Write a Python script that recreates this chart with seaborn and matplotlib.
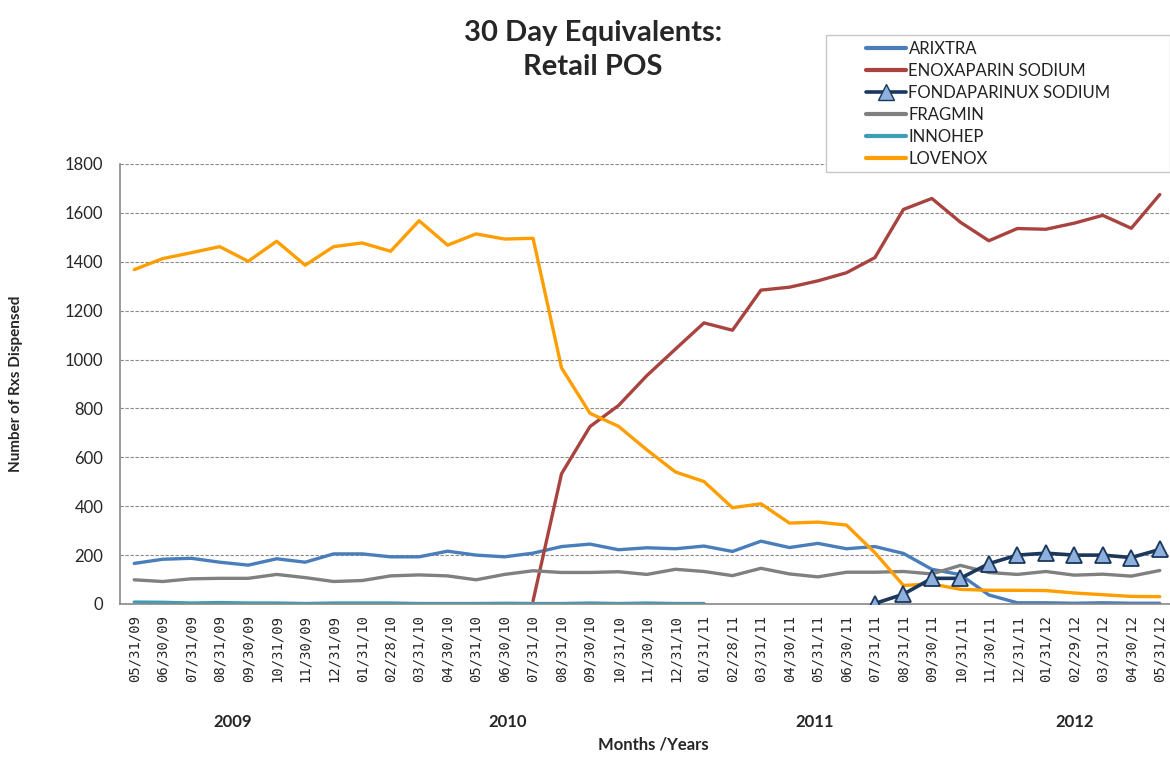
import numpy as np
import pandas as pd
import matplotlib
matplotlib.use("Agg")
import matplotlib.pyplot as plt
from matplotlib.patches import Rectangle
from matplotlib.lines import Line2D
import seaborn as sns

sns.set_style("white")
plt.rcParams['font.family'] = ['Lato', 'DejaVu Sans']

nan = np.nan

months = ["05/31/09", "06/30/09", "07/31/09", "08/31/09", "09/30/09", "10/31/09", "11/30/09",
          "12/31/09", "01/31/10", "02/28/10", "03/31/10", "04/30/10", "05/31/10", "06/30/10",
          "07/31/10", "08/31/10", "09/30/10", "10/31/10", "11/30/10", "12/31/10", "01/31/11",
          "02/28/11", "03/31/11", "04/30/11", "05/31/11", "06/30/11", "07/31/11", "08/31/11",
          "09/30/11", "10/31/11", "11/30/11", "12/31/11", "01/31/12", "02/29/12", "03/31/12",
          "04/30/12", "05/31/12"]

years = ["2009", "2010", "2011", "2012"]

arixtra = [166, 183, 187, 171, 159, 185, 171, 205, 205, 193, 193, 216, 200, 193, 208,
           235, 245, 222, 230, 226, 237, 215, 257, 231, 248, 226, 235, 207, 142, 120,
           37, 5, 5, 3, 5, 3, 3]

enoxaparin = [nan] * 14 + [13, 533, 726, 812, 935, 1043, 1150, 1120, 1284, 1296, 1322, 1355,
                          1417, 1614, 1659, 1562, 1486, 1536, 1533, 1558, 1590, 1537, 1675]

fondaparinux = [nan] * 26 + [2, 40, 105, 105, 165, 200, 208, 200, 200, 190, 223]

fragmin = [99, 92, 103, 105, 105, 121, 108, 92, 96, 115, 119, 115, 99, 121, 136,
           129, 129, 132, 121, 142, 133, 116, 146, 123, 111, 130, 130, 133, 123, 158,
           129, 121, 133, 118, 122, 114, 137]

innohep = [8, 7, 4, 6, 4, 4, 2, 4, 4, 4, 2, 2, 2, 3, 2, 2, 4, 2, 4, 2, 2] + [nan] * 16

lovenox = [1368, 1413, 1437, 1462, 1402, 1484, 1386, 1462, 1477, 1443, 1568, 1468, 1514,
           1493, 1496, 966, 780, 727, 630, 540, 501, 394, 410, 331, 335, 323, 210,
           76, 82, 60, 56, 56, 55, 45, 38, 31, 30]

names = ["ARIXTRA", "ENOXAPARIN SODIUM", "FONDAPARINUX SODIUM", "FRAGMIN", "INNOHEP", "LOVENOX"]
series = [arixtra, enoxaparin, fondaparinux, fragmin, innohep, lovenox]
colors = ["#4A7EBB", "#A9433F", "#1B375C", "#808080", "#3C9DB4", "#FF9E00"]

rows = []
for name, vals in zip(names, series):
    for i, v in enumerate(vals):
        rows.append({"idx": i, "month": months[i], "drug": name, "value": v})
df = pd.DataFrame(rows).dropna()

fig = plt.figure(figsize=(11.7, 7.57), dpi=100)
ax = fig.add_axes([120 / 1170, 1 - 604 / 757, 1054 / 1170, 440 / 757])

for name, color in zip(names, colors):
    sub = df[df["drug"] == name]
    if name == "FONDAPARINUX SODIUM":
        sns.lineplot(data=sub, x="idx", y="value", ax=ax, color=color, lw=2.6,
                     marker="^", markersize=11, markerfacecolor="#8DB0DD",
                     markeredgecolor=color, markeredgewidth=1.3, zorder=3)
    else:
        sns.lineplot(data=sub, x="idx", y="value", ax=ax, color=color, lw=2.4, zorder=2)

ax.set_xlim(-0.5, len(months) - 0.5)
ax.set_ylim(0, 1800)
ax.set_yticks(range(0, 1801, 200))
ax.yaxis.grid(True, linestyle=(0, (3, 1.5)), color="#8A8A8A", lw=0.8)
ax.set_axisbelow(True)

ax.set_xticks(range(len(months)))
ax.set_xticklabels(months, rotation=90, family="DejaVu Sans Mono", fontsize=10)
ax.set_xticks(np.arange(-0.5, len(months), 1), minor=True)
ax.tick_params(axis="x", which="major", length=0, pad=8)
ax.tick_params(axis="x", which="minor", length=6, color="#888888", direction="out")
ax.tick_params(axis="y", length=6, color="#888888", labelsize=12, pad=6)

for side in ["top", "right"]:
    ax.spines[side].set_visible(False)
for side in ["left", "bottom"]:
    ax.spines[side].set_color("#888888")
    ax.spines[side].set_linewidth(1.2)

ax.set_xlabel("")
ax.set_ylabel("Number of Rxs Dispensed", fontsize=11, fontweight="bold", labelpad=30)

# year group labels
year_px = [233, 508, 815, 1075]
for yr, px in zip(years, year_px):
    fig.text(px / 1170, 1 - 722 / 757, yr, ha="center", va="center",
             fontsize=12, fontweight="bold")
fig.text(653 / 1170, 1 - 745 / 757, "Months /Years", ha="center", va="center",
         fontsize=12, fontweight="bold")

fig.text(593 / 1170, 1 - 50 / 757, "30 Day Equivalents:\nRetail POS", ha="center",
         va="center", fontsize=21, fontweight="bold", linespacing=1.4)

# legend
fig.patches.append(Rectangle((826 / 1170, 1 - 172 / 757), 344 / 1170, 137 / 757,
                             transform=fig.transFigure, facecolor="white",
                             edgecolor="#C8C8C8", lw=1, zorder=5))
handles = []
for name, color in zip(names, colors):
    if name == "FONDAPARINUX SODIUM":
        handles.append(Line2D([], [], color=color, lw=2.6, marker="^", markersize=11,
                              markerfacecolor="#8DB0DD", markeredgecolor=color))
    else:
        handles.append(Line2D([], [], color=color, lw=3))
leg = fig.legend(handles, names, loc="upper left", bbox_to_anchor=(866 / 1170, 1 - 41 / 757),
                 frameon=False, fontsize=12, handlelength=2.4, handletextpad=0.15,
                 labelspacing=0.36, borderpad=0, borderaxespad=0)
leg.set_zorder(6)
for t in leg.get_texts():
    t.set_color("#222222")

fig.savefig("out.png", dpi=100)
